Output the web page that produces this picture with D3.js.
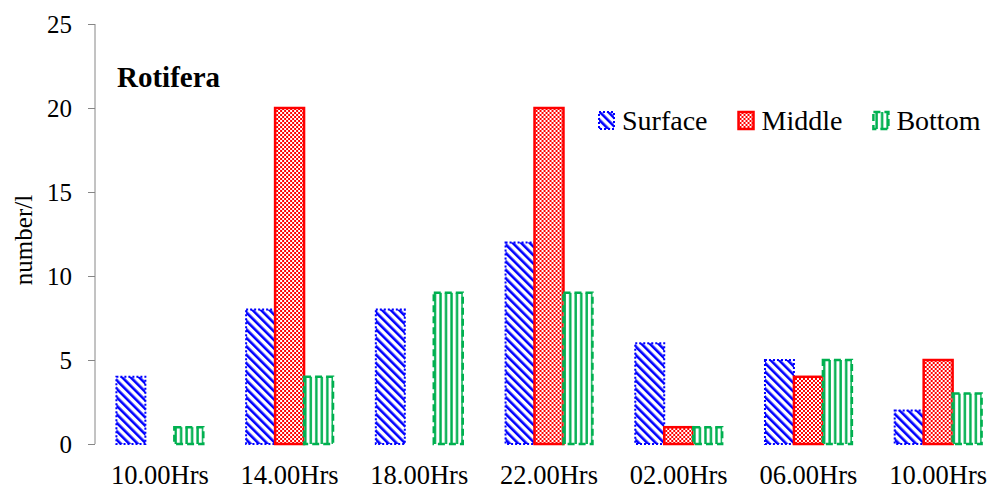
<!DOCTYPE html>
<html>
<head>
<meta charset="utf-8">
<script src="https://cdn.jsdelivr.net/npm/d3@7"></script>
<style>
  body { margin: 0; background: #fff; }
  svg { display: block; }
  text { font-family: "Liberation Serif", "Times New Roman", serif; fill: #000; }
</style>
</head>
<body>
<svg id="chart" width="995" height="487"></svg>
<script>
// data
var categories = ["10.00Hrs", "14.00Hrs", "18.00Hrs", "22.00Hrs", "02.00Hrs", "06.00Hrs", "10.00Hrs"];
var seriesNames = ["Surface", "Middle", "Bottom"];
var surface = [4, 8, 8, 12, 6, 5, 2];
var middle = [0, 20, 0, 20, 1, 4, 5];
var bottom = [1, 4, 9, 9, 1, 5, 3];
var yTicks = [0, 5, 10, 15, 20, 25];

var values = { Surface: surface, Middle: middle, Bottom: bottom };

var plotLeft = 95, plotTop = 24, plotBase = 444, plotRight = 1003;

var svg = d3.select("#chart");
var defs = svg.append("defs");

// surface: blue back-slash hatching
var pS = defs.append("pattern").attr("id", "pat-Surface")
  .attr("patternUnits", "userSpaceOnUse").attr("width", 6).attr("height", 6)
  .attr("patternTransform", "rotate(-45)");
pS.append("rect").attr("width", 6).attr("height", 6).attr("fill", "#fff");
pS.append("rect").attr("width", 2.6).attr("height", 6).attr("fill", "#0000ff");

// middle: red dots
var pM = defs.append("pattern").attr("id", "pat-Middle")
  .attr("patternUnits", "userSpaceOnUse").attr("width", 4).attr("height", 4);
pM.append("rect").attr("width", 4).attr("height", 4).attr("fill", "#fff");
pM.append("rect").attr("width", 2).attr("height", 2).attr("fill", "#ff0000");
pM.append("rect").attr("x", 2).attr("y", 2).attr("width", 2).attr("height", 2).attr("fill", "#ff0000");

// bottom: green vertical lines
var pB = defs.append("pattern").attr("id", "pat-Bottom")
  .attr("patternUnits", "userSpaceOnUse").attr("width", 5.5).attr("height", 6);
pB.append("rect").attr("width", 5.5).attr("height", 6).attr("fill", "#fff");
pB.append("rect").attr("x", 3).attr("width", 2.4).attr("height", 6).attr("fill", "#00b050");

var styles = {
  Surface: { stroke: "#0000ff", width: 2, dash: "2,2" },
  Middle: { stroke: "#ff0000", width: 2.5, dash: null },
  Bottom: { stroke: "#00b050", width: 2.5, dash: "7,4" }
};

var x0 = d3.scaleBand().domain(d3.range(categories.length))
  .range([plotLeft, plotRight]).paddingInner(0.33).paddingOuter(0.165);
var x1 = d3.scaleBand().domain(seriesNames).range([0, x0.bandwidth()]);
var y = d3.scaleLinear().domain([0, 25]).range([plotBase, plotTop]);

// y axis
var yAxis = svg.append("g").attr("transform", "translate(" + plotLeft + ",0)")
  .call(d3.axisLeft(y).tickValues(yTicks).tickSize(7).tickPadding(16));
yAxis.selectAll("path, line").attr("stroke", "#868686");
yAxis.select(".domain").attr("d", "M0," + plotTop + "V" + plotBase);
yAxis.selectAll("text")
  .attr("font-family", "Liberation Serif").attr("font-size", 25);

// x labels, no axis line
var xAxis = svg.append("g").attr("transform", "translate(0," + plotBase + ")")
  .call(d3.axisBottom(x0).tickSize(0).tickFormat(function(i){ return categories[i]; }));
xAxis.select(".domain").remove();
xAxis.selectAll("text")
  .attr("font-family", "Liberation Serif").attr("font-size", 26.5)
  .attr("y", 21);

// bars
var groups = svg.append("g").selectAll("g").data(categories).join("g")
  .attr("transform", function(d, i){ return "translate(" + x0(i) + ",0)"; });

groups.selectAll("rect")
  .data(function(d, i){
    return seriesNames.map(function(s){ return { key: s, value: values[s][i] }; })
      .filter(function(e){ return e.value > 0; });
  })
  .join("rect")
  .attr("x", function(d){ return x1(d.key); })
  .attr("y", function(d){ return y(d.value); })
  .attr("width", x1.bandwidth())
  .attr("height", function(d){ return plotBase - y(d.value); })
  .attr("fill", function(d){ return "url(#pat-" + d.key + ")"; })
  .attr("stroke", function(d){ return styles[d.key].stroke; })
  .attr("stroke-width", function(d){ return styles[d.key].width; })
  .attr("stroke-dasharray", function(d){ return styles[d.key].dash; });

// title
svg.append("text")
  .attr("x", 117).attr("y", 87)
  .attr("font-size", 29).attr("font-weight", "bold")
  .text("Rotifera");

// y label
svg.append("text")
  .attr("transform", "translate(32,240) rotate(-90)")
  .attr("text-anchor", "middle").attr("font-size", 25)
  .text("number/l");

// legend
var lx = 598;
seriesNames.forEach(function(s){
  var g = svg.append("g").attr("transform", "translate(" + lx + ",112)");
  g.append("rect").attr("x", 1).attr("y", 0).attr("width", 15).attr("height", 17)
    .attr("fill", "url(#pat-" + s + ")")
    .attr("stroke", styles[s].stroke).attr("stroke-width", styles[s].width)
    .attr("stroke-dasharray", styles[s].dash);
  var t = g.append("text")
    .attr("x", 24).attr("y", 18)
    .attr("font-size", 28).text(s);
  lx += 24 + t.node().getComputedTextLength() + 30;
});
</script>
</body>
</html>
